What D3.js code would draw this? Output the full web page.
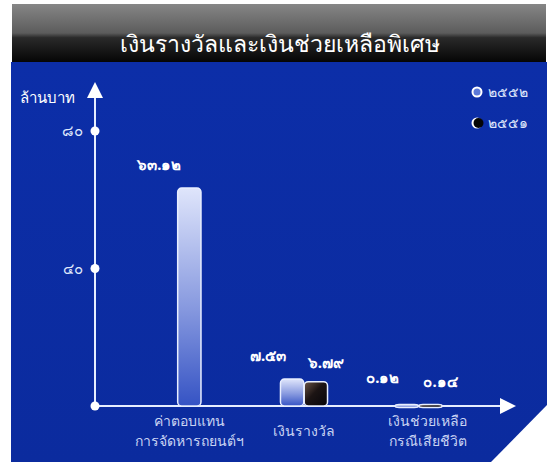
<!DOCTYPE html>
<html>
<head>
<meta charset="utf-8">
<script src="https://cdn.jsdelivr.net/npm/d3@7/dist/d3.min.js"></script>
<style>
  html, body { margin: 0; padding: 0; background: #ffffff; }
  svg { display: block; }
  text { font-family: "Noto Sans", "DejaVu Sans", sans-serif; }
</style>
</head>
<body>
<svg id="chart" width="550" height="462"></svg>
<script>
// ---- data ----
const title = "เงินรางวัลและเงินช่วยเหลือพิเศษ";
const unitLabel = "ล้านบาท";
const categories = ["ค่าตอบแทน|การจัดหารถยนต์ฯ", "เงินรางวัล", "เงินช่วยเหลือ|กรณีเสียชีวิต"];
const series = ["๒๕๕๒", "๒๕๕๑"];
const values2552 = [63.12, 7.53, 0.12];
const values2551 = [null, 6.79, 0.14];
const yTicks = [40, 80];

const toThai = s => String(s).replace(/[0-9]/g, d => "๐๑๒๓๔๕๖๗๘๙"[+d]);

const svg = d3.select("#chart");
const defs = svg.append("defs");

// gradients
const hg = defs.append("linearGradient").attr("id", "hdr").attr("x1", 0).attr("y1", 0).attr("x2", 0).attr("y2", 1);
hg.append("stop").attr("offset", "0%").attr("stop-color", "#868686");
hg.append("stop").attr("offset", "50%").attr("stop-color", "#5c5c5c");
hg.append("stop").attr("offset", "58%").attr("stop-color", "#2a2a2a");
hg.append("stop").attr("offset", "100%").attr("stop-color", "#050505");

const pg = defs.append("linearGradient").attr("id", "panel").attr("x1", 0).attr("y1", 0).attr("x2", 0).attr("y2", 1);
pg.append("stop").attr("offset", "0%").attr("stop-color", "#0c2ea8");
pg.append("stop").attr("offset", "100%").attr("stop-color", "#0b2b9e");

const g1 = defs.append("linearGradient").attr("id", "s0").attr("x1", 0).attr("y1", 0).attr("x2", 0).attr("y2", 1);
g1.append("stop").attr("offset", "0%").attr("stop-color", "#dfe5fb");
g1.append("stop").attr("offset", "55%").attr("stop-color", "#8799df");
g1.append("stop").attr("offset", "100%").attr("stop-color", "#3553c4");

const g2 = defs.append("linearGradient").attr("id", "s1").attr("x1", 0).attr("y1", 0).attr("x2", 1).attr("y2", 1);
g2.append("stop").attr("offset", "0%").attr("stop-color", "#6b5548");
g2.append("stop").attr("offset", "45%").attr("stop-color", "#1c1414");
g2.append("stop").attr("offset", "100%").attr("stop-color", "#05050a");

// header and panel
svg.append("rect").attr("x", 12).attr("y", 4).attr("width", 534).attr("height", 58).attr("fill", "url(#hdr)");
svg.append("path").attr("d", "M11,62 L547,62 L547,405 L491,462 L11,462 Z").attr("fill", "url(#panel)");

svg.append("text").attr("x", 280).attr("y", 52).attr("text-anchor", "middle")
  .attr("fill", "#ffffff").attr("font-size", 23).text(title);

// scales
const x = d3.scaleBand().domain(categories).range([132, 476]).padding(0);
const xs = d3.scaleBand().domain(series).range([0, 48]).padding(0.02);
const y = d3.scaleLinear().domain([0, 80]).range([406, 131]);

const axisColor = "#e6eeff";
const x0 = 95;
const yBase = y(0);

// axes lines
svg.append("line").attr("x1", x0).attr("x2", x0).attr("y1", yBase).attr("y2", 92)
  .attr("stroke", axisColor).attr("stroke-width", 2);
svg.append("path").attr("d", `M${x0},82 L${x0 - 8},98 L${x0 + 8},98 Z`).attr("fill", "#ffffff");
svg.append("line").attr("x1", x0).attr("x2", 505).attr("y1", yBase).attr("y2", yBase)
  .attr("stroke", axisColor).attr("stroke-width", 2);
svg.append("path").attr("d", `M516,${yBase} L500,${yBase - 8} L500,${yBase + 8} Z`).attr("fill", "#ffffff");

// y axis ticks via d3 axis
const yAxis = d3.axisLeft(y).tickValues(yTicks).tickSize(0).tickPadding(12).tickFormat(d => toThai(d));
const ya = svg.append("g").attr("transform", `translate(${x0},0)`).call(yAxis);
ya.select(".domain").remove();
ya.selectAll("text").attr("fill", "#dfe6fb").attr("font-size", 15);
svg.selectAll(".tickdot").data(yTicks.concat([0])).enter().append("circle")
  .attr("cx", x0).attr("cy", d => y(d)).attr("r", 4.5).attr("fill", "#ffffff");

svg.append("text").attr("x", 20).attr("y", 103).attr("fill", "#ffffff")
  .attr("font-size", 15).text(unitLabel);

// bars
const rows = [];
categories.forEach((c, i) => {
  const vals = [values2552[i], values2551[i]];
  const present = series.filter((s, k) => vals[k] != null);
  series.forEach((s, k) => {
    if (vals[k] == null) return;
    let bx;
    if (present.length === 1) bx = x(c) + x.bandwidth() / 2 - xs.bandwidth() / 2;
    else bx = x(c) + x.bandwidth() / 2 - 24 + xs(s);
    rows.push({ c, s, k, v: vals[k], bx });
  });
});

svg.selectAll(".bar").data(rows).enter().append("rect")
  .attr("x", d => d.bx).attr("width", xs.bandwidth())
  .attr("y", d => y(d.v) - 1).attr("height", d => Math.max(yBase - y(d.v) + 1, 3))
  .attr("rx", 4).attr("ry", 4)
  .attr("fill", d => `url(#s${d.k})`)
  .attr("stroke", "#e8eeff").attr("stroke-width", 1.5);

// value labels
const labelDx = [-24, 10];
const labelDy = [-24, -20];
svg.selectAll(".vlab").data(rows).enter().append("text")
  .attr("x", d => d.bx + xs.bandwidth() / 2 + (rows.filter(r => r.c === d.c).length === 1 ? -30 : labelDx[d.k]))
  .attr("y", d => Math.min(y(d.v), yBase - 4) + labelDy[d.k] + 5)
  .attr("text-anchor", "middle").attr("fill", "#ffffff").attr("font-size", 15).attr("font-weight", "bold")
  .text(d => toThai(d.v.toFixed(2)));

// category labels
const catG = svg.selectAll(".cat").data(categories).enter().append("text")
  .attr("text-anchor", "middle").attr("fill", "#c9d4f3").attr("font-size", 14);
catG.each(function (c) {
  const lines = c.split("|");
  const t = d3.select(this);
  const cx = x(c) + x.bandwidth() / 2 + (lines.length > 1 && c !== categories[0] ? 9 : 0);
  const y0 = lines.length > 1 ? 426 : 436;
  lines.forEach((ln, j) => {
    t.append("tspan").attr("x", cx).attr("y", y0 + j * 20).text(ln);
  });
});

// legend
const lg = svg.append("g");
series.forEach((s, k) => {
  const ly = 92 + k * 31;
  if (k === 0) {
    lg.append("circle").attr("cx", 477).attr("cy", ly).attr("r", 4.5)
      .attr("fill", "#5b78d8").attr("stroke", "#ffffff").attr("stroke-width", 2);
  } else {
    lg.append("circle").attr("cx", 477).attr("cy", ly).attr("r", 5.5).attr("fill", "#ffffff");
    lg.append("circle").attr("cx", 478.5).attr("cy", ly).attr("r", 5).attr("fill", "#050505");
  }
  lg.append("text").attr("x", 488).attr("y", ly + 5).attr("fill", "#dfe6fb")
    .attr("font-size", 14).text(s);
});
</script>
</body>
</html>
